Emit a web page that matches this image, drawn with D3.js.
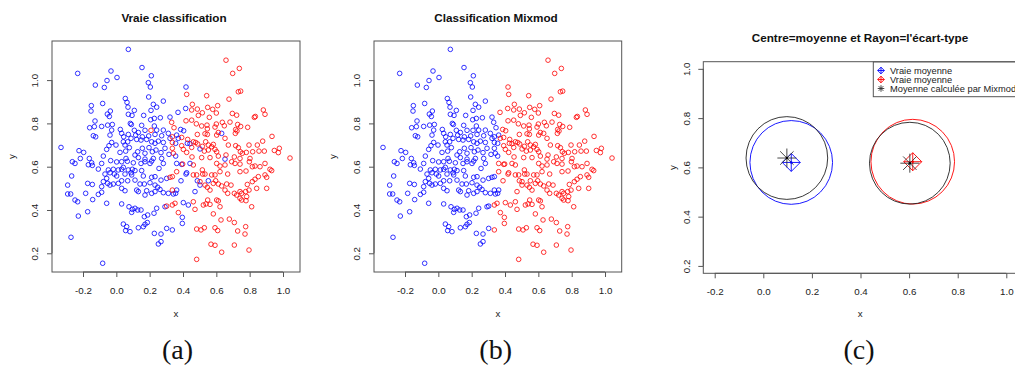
<!DOCTYPE html>
<html>
<head>
<meta charset="utf-8">
<script src="https://cdn.jsdelivr.net/npm/d3@7"></script>
<style>
  body { margin: 0; background: #fff; }
  svg text { font-family: "Liberation Sans", Arial, sans-serif; fill: #222; }
  .title { font-weight: bold; font-size: 11.7px; fill: #111; }
  .tick-label, .axis-label { font-size: 9.75px; }
  .legend-text { font-size: 9.3px; }
  .caption { font-family: "Liberation Serif", "Times New Roman", serif; font-size: 28px; fill: #111; }
</style>
</head>
<body>
<svg id="fig" width="1015" height="367"></svg>
<script>
// Points de la vraie classe 1 (bleus) : [x, y, classe Mixmod]
const bleus = [
	[0.072,1.142,1],[-0.232,1.031,1],[-0.032,1.042,1],[0.154,1.058,1],[-0.056,0.998,1],[0.004,1.012,1],
	[-0.126,0.977,1],[-0.072,0.966,1],[0.21,1.02,1],[0.192,0.988,1],[0.204,0.968,1],[0.054,0.915,1],
	[0.194,0.922,1],[0.282,0.903,1],[-0.15,0.882,1],[-0.082,0.892,1],[0.064,0.897,1],[0.07,0.875,1],
	[-0.152,0.857,1],[-0.036,0.857,1],[0.108,0.86,1],[0.222,0.888,1],[0.242,0.875,1],[0.208,0.86,1],
	[-0.054,0.843,1],[0.072,0.842,1],[0.164,0.837,1],[-0.042,0.832,1],[0.094,0.837,1],[-0.128,0.811,1],
	[0.228,0.823,1],[0.264,0.826,1],[0.322,0.829,1],[0.206,0.817,1],[-0.16,0.78,1],[-0.132,0.785,1],
	[-0.088,0.786,1],[-0.052,0.792,1],[-0.024,0.795,1],[0.084,0.8,1],[0.09,0.795,1],[0.152,0.791,1],
	[0.228,0.788,1],[-0.028,0.769,1],[0.024,0.772,1],[0.108,0.768,1],[0.132,0.758,1],[0.172,0.768,1],
	[0.242,0.769,1],[0.282,0.769,1],[0.312,0.754,1],[-0.138,0.743,1],[-0.124,0.738,1],[-0.038,0.746,1],
	[0.032,0.754,1],[0.044,0.738,1],[0.072,0.749,1],[0.116,0.746,1],[0.156,0.738,1],[0.194,0.742,1],
	[0.232,0.749,1],[0.272,0.743,1],[-0.332,0.689,1],[-0.028,0.712,1],[-0.002,0.7,1],[0.042,0.715,1],
	[0.052,0.7,1],[0.068,0.715,1],[0.088,0.731,1],[0.122,0.726,1],[0.148,0.723,1],[0.182,0.726,1],
	[0.212,0.715,1],[0.232,0.708,1],[0.252,0.718,1],[0.282,0.712,1],[0.322,0.731,1],[-0.224,0.674,1],
	[-0.196,0.666,1],[-0.162,0.638,1],[-0.078,0.649,1],[-0.058,0.68,1],[-0.044,0.697,1],[0.022,0.666,1],
	[0.056,0.672,1],[0.078,0.688,1],[0.112,0.654,1],[0.128,0.669,1],[0.156,0.685,1],[0.172,0.662,1],
	[0.196,0.688,1],[0.216,0.669,1],[0.238,0.677,1],[0.268,0.665,1],[0.292,0.685,1],[0.316,0.657,1],
	[-0.216,0.638,1],[0.058,0.638,1],[0.132,0.642,1],[0.172,0.635,1],[0.222,0.638,1],[0.272,0.638,1],
	[0.418,0.968,2],[0.37,0.851,2],[0.416,0.869,2],[0.386,0.772,2],[0.404,0.766,2],[0.362,0.746,1],
	[0.372,0.731,2],[0.356,0.708,1],[0.426,0.708,2],[0.442,0.706,2],[0.632,0.754,2],[0.502,0.682,2],
	[0.652,0.635,2],[0.356,0.649,1],
	[-0.264,0.623,1],[-0.248,0.615,1],[-0.168,0.609,1],[-0.148,0.618,1],[-0.144,0.606,1],[-0.088,0.615,1],
	[-0.034,0.628,1],[0.002,0.622,1],[0.032,0.623,1],[0.066,0.625,1],[0.102,0.618,1],[0.148,0.615,1],
	[0.172,0.623,1],[0.202,0.615,1],[0.212,0.626,1],[0.282,0.615,1],[0.256,0.592,1],[-0.108,0.589,1],
	[-0.048,0.585,1],[-0.018,0.588,1],[-0.038,0.572,1],[0.012,0.585,1],[0.032,0.588,1],[0.042,0.597,1],
	[0.072,0.585,1],[0.096,0.588,1],[0.088,0.572,1],[0.112,0.582,1],[0.152,0.582,1],[-0.268,0.557,1],
	[-0.068,0.566,1],[-0.058,0.546,1],[-0.012,0.566,1],[0.002,0.557,1],[0.052,0.566,1],[0.092,0.562,1],
	[0.162,0.557,1],[0.212,0.551,1],[0.232,0.554,1],[0.268,0.538,1],[0.302,0.546,1],[-0.078,0.531,1],
	[-0.052,0.523,1],[-0.038,0.515,1],[-0.018,0.52,1],[0.012,0.523,1],[0.032,0.535,1],[0.068,0.535,1],
	[0.112,0.538,1],[0.142,0.52,1],[0.168,0.52,1],[0.202,0.526,1],[0.232,0.515,1],[0.248,0.505,1],
	[0.262,0.495,1],[-0.292,0.515,1],[-0.172,0.523,1],[-0.144,0.518,1],[-0.088,0.508,1],[0.032,0.5,1],
	[0.052,0.489,1],[0.122,0.492,1],[0.132,0.485,1],[0.182,0.489,1],[0.212,0.477,1],[0.232,0.485,1],
	[0.282,0.48,1],[0.312,0.477,1],[0.342,0.474,1],[-0.292,0.474,1],[-0.274,0.474,1],[-0.184,0.477,1],
	[-0.108,0.472,1],[-0.088,0.482,1],[0.172,0.469,1],[-0.248,0.446,1],[-0.232,0.438,1],[-0.142,0.448,1],
	[-0.058,0.431,1],[0.032,0.428,1],[0.076,0.415,1],[0.096,0.403,1],[0.112,0.408,1],[0.128,0.4,1],
	[0.148,0.4,1],[0.242,0.408,1],[0.226,0.385,1],[0.292,0.415,1],[-0.172,0.392,1],[0.092,0.389,1],
	[0.188,0.377,1],[0.168,0.369,1],[-0.228,0.372,1],[0.042,0.335,1],[0.062,0.323,1],[0.056,0.305,1],
	[0.082,0.3,1],[0.132,0.318,1],[0.162,0.323,1],[0.172,0.334,1],[0.186,0.342,1],[0.228,0.292,1],
	[0.268,0.289,1],[0.302,0.315,1],[0.336,0.308,2],[-0.272,0.274,1],[0.252,0.243,1],[0.268,0.254,1],
	[-0.082,0.154,1],
	[0.362,0.615,2],[0.392,0.611,2],[0.442,0.615,2],[0.422,0.572,2],[0.418,0.566,2],[0.388,0.535,2],
	[0.486,0.535,2],[0.552,0.535,2],[0.362,0.492,1],[0.356,0.477,1],[0.472,0.485,2],[0.502,0.515,2],
	[0.402,0.434,2],[0.432,0.423,2],[0.396,0.366,2],[0.396,0.338,2]
];

// Points de la vraie classe 2 (rouges) : [x, y, classe Mixmod]
const rouges = [
	[0.208,0.768,1],[0.332,0.805,1],[0.346,0.78,1],[0.336,0.738,1],[0.336,0.712,1],[0.336,0.685,1],
	[0.342,0.662,1],
	[0.658,1.092,2],[0.738,1.054,2],[0.698,1.031,2],[0.422,0.934,2],[0.542,0.928,2],[0.732,0.946,2],
	[0.746,0.949,2],[0.676,0.912,2],[0.456,0.888,2],[0.486,0.866,2],[0.548,0.874,2],[0.578,0.865,2],
	[0.608,0.882,2],[0.6,0.848,2],[0.452,0.862,2],[0.516,0.849,2],[0.492,0.837,2],[0.558,0.828,2],
	[0.418,0.812,2],[0.452,0.815,2],[0.48,0.798,2],[0.512,0.788,2],[0.544,0.792,2],[0.546,0.775,2],
	[0.592,0.783,2],[0.6,0.797,2],[0.636,0.805,2],[0.648,0.789,2],[0.696,0.846,2],[0.722,0.838,2],
	[0.682,0.806,2],[0.728,0.795,2],[0.746,0.786,2],[0.788,0.782,2],[0.828,0.828,2],[0.834,0.832,2],
	[0.882,0.862,2],[0.892,0.842,2],[0.716,0.772,2],[0.724,0.765,2],[0.714,0.754,2],[0.486,0.749,2],
	[0.532,0.752,2],[0.546,0.749,2],[0.602,0.746,2],[0.612,0.758,2],[0.392,0.735,2],[0.428,0.726,2],
	[0.462,0.715,2],[0.476,0.712,2],[0.488,0.705,2],[0.536,0.715,2],[0.552,0.7,2],[0.572,0.692,2],
	[0.582,0.703,2],[0.392,0.697,2],[0.402,0.68,2],[0.422,0.666,2],[0.452,0.689,2],[0.516,0.694,2],
	[0.528,0.672,2],[0.552,0.677,2],[0.592,0.68,2],[0.602,0.669,2],[0.652,0.731,2],[0.672,0.7,2],
	[0.716,0.697,2],[0.732,0.688,2],[0.744,0.669,2],[0.756,0.662,2],[0.78,0.666,2],[0.796,0.7,2],
	[0.818,0.669,2],[0.846,0.7,2],[0.856,0.672,2],[0.878,0.718,2],[0.888,0.672,2],[0.934,0.74,2],
	[0.948,0.675,2],[0.978,0.685,2],[0.972,0.665,2],[1.042,0.64,2],[0.454,0.645,2],[0.512,0.642,2],
	[0.562,0.642,2],[0.612,0.649,2],[0.658,0.654,2],[0.708,0.645,2],[0.742,0.638,2],[0.802,0.638,2],
	[0.362,0.577,2],[0.398,0.612,2],[0.462,0.608,2],[0.516,0.585,2],[0.602,0.615,2],[0.622,0.603,2],
	[0.652,0.608,2],[0.692,0.623,2],[0.712,0.615,2],[0.742,0.612,2],[0.798,0.623,2],[0.816,0.6,2],
	[0.832,0.603,2],[0.862,0.6,2],[0.892,0.615,2],[0.922,0.588,2],[0.932,0.582,2],[0.462,0.562,2],
	[0.482,0.562,2],[0.518,0.566,2],[0.532,0.566,2],[0.572,0.562,2],[0.592,0.562,2],[0.622,0.577,2],
	[0.668,0.566,2],[0.742,0.577,2],[0.778,0.58,2],[0.502,0.531,2],[0.532,0.515,2],[0.546,0.505,2],
	[0.562,0.492,2],[0.582,0.523,2],[0.596,0.535,2],[0.612,0.52,2],[0.632,0.511,2],[0.662,0.52,2],
	[0.688,0.515,2],[0.708,0.477,2],[0.722,0.469,2],[0.742,0.485,2],[0.752,0.477,2],[0.776,0.485,2],
	[0.786,0.518,2],[0.796,0.492,2],[0.816,0.531,2],[0.832,0.542,2],[0.852,0.554,2],[0.892,0.562,2],
	[0.902,0.551,2],[0.842,0.5,2],[0.902,0.5,2],[0.652,0.492,2],[0.668,0.477,2],[0.742,0.454,2],
	[0.752,0.446,2],[0.778,0.443,2],[0.782,0.462,2],[0.812,0.415,2],[0.462,0.438,2],[0.472,0.403,2],
	[0.522,0.423,2],[0.538,0.428,2],[0.548,0.446,2],[0.562,0.426,2],[0.602,0.446,2],[0.612,0.442,2],
	[0.622,0.415,2],[0.582,0.382,2],[0.628,0.354,2],[0.678,0.358,2],[0.708,0.342,2],[0.776,0.323,2],
	[0.728,0.303,2],[0.772,0.289,2],[0.482,0.312,2],[0.508,0.308,2],[0.528,0.318,2],[0.592,0.318,2],
	[0.608,0.305,2],[0.568,0.242,2],[0.592,0.237,2],[0.708,0.238,2],[0.796,0.215,2],[0.632,0.205,2],
	[0.482,0.172,2],[0.372,0.388,2],[0.352,0.431,2],
	[0.322,0.551,1],[0.336,0.554,1],[0.336,0.492,1],[0.302,0.418,1],[0.336,0.423,2]
];

// Panneau (c) : moyennes et écarts-types
const moyennesVraies = [[0.115, 0.620], [0.615, 0.623]];
const ecartsVrais = [0.170, 0.172];
const moyennesMixmod = [[0.097, 0.638], [0.603, 0.617]];
const ecartsMixmod = [0.168, 0.166];

const xTicks = [-0.2, 0.0, 0.2, 0.4, 0.6, 0.8, 1.0];
const yTicks = [0.2, 0.4, 0.6, 0.8, 1.0];
const titres = ["Vraie classification", "Classification Mixmod", "Centre=moyenne et Rayon=l'écart-type"];
const sousTitres = ["(a)", "(b)", "(c)"];
const legendeTextes = ["Vraie moyenne", "Vraie moyenne", "Moyenne calculée par Mixmod"];

const couleurs = {1: "#0000ff", 2: "#ff0000"};
const gris = "#555";

const svg = d3.select("#fig");
svg.append("rect").attr("width", 1015).attr("height", 367).attr("fill", "#fff");

// cadre + axes à la manière de R
function cadre(p) {
	const x = d3.scaleLinear().domain(p.xDomain).range([p.left, p.right]);
	const y = d3.scaleLinear().domain(p.yDomain).range([p.bottom, p.top]);

	svg.append("rect")
		.attr("x", p.left).attr("y", p.top)
		.attr("width", p.right - p.left).attr("height", p.bottom - p.top)
		.attr("fill", "none").attr("stroke", gris).attr("stroke-width", 1);

	const gx = svg.append("g")
		.attr("transform", "translate(0," + p.bottom + ")")
		.call(d3.axisBottom(x).tickValues(xTicks).tickSize(5).tickFormat(d => d.toFixed(1)));
	gx.select(".domain").remove();
	gx.append("line")
		.attr("x1", x(xTicks[0])).attr("x2", x(xTicks[xTicks.length - 1]))
		.attr("stroke", gris);
	gx.selectAll(".tick line").attr("stroke", gris);
	gx.selectAll(".tick text")
		.classed("tick-label", true)
		.attr("y", p.xLabelY).attr("dy", null);

	const gy = svg.append("g")
		.attr("transform", "translate(" + p.left + ",0)")
		.call(d3.axisLeft(y).tickValues(yTicks).tickSize(5).tickFormat(d => d.toFixed(1)));
	gy.select(".domain").remove();
	gy.append("line")
		.attr("y1", y(yTicks[0])).attr("y2", y(yTicks[yTicks.length - 1]))
		.attr("stroke", gris);
	gy.selectAll(".tick line").attr("stroke", gris);
	gy.selectAll(".tick text")
		.classed("tick-label", true)
		.attr("x", null).attr("dy", null)
		.attr("text-anchor", "middle")
		.attr("transform", "translate(" + (-p.yLabelX) + ",0) rotate(-90)");

	// titre
	svg.append("text")
		.classed("title", true)
		.attr("x", p.titleX).attr("y", p.titleY)
		.attr("text-anchor", "middle")
		.text(p.titre);
	// étiquettes d'axes
	svg.append("text")
		.classed("axis-label", true)
		.attr("x", (p.left + p.right) / 2).attr("y", 317)
		.attr("text-anchor", "middle")
		.text("x");
	svg.append("text")
		.classed("axis-label", true)
		.attr("transform", "translate(" + p.yAxisLabelX + "," + ((p.top + p.bottom) / 2) + ") rotate(-90)")
		.attr("text-anchor", "middle")
		.text("y");
	// sous-titre (a), (b), (c)
	svg.append("text")
		.classed("caption", true)
		.attr("x", p.captionX).attr("y", 359)
		.attr("text-anchor", "middle")
		.text(p.sousTitre);

	return {x, y};
}

function nuage(sc, champ) {
	const pts = bleus.map(d => ({x: d[0], y: d[1], c: champ === "vraie" ? 1 : d[2]}))
		.concat(rouges.map(d => ({x: d[0], y: d[1], c: champ === "vraie" ? 2 : d[2]})));
	svg.append("g").selectAll("circle")
		.data(pts)
		.join("circle")
		.attr("cx", d => sc.x(d.x))
		.attr("cy", d => sc.y(d.y))
		.attr("r", 2.3)
		.attr("fill", "none")
		.attr("stroke", d => couleurs[d.c])
		.attr("stroke-width", 0.8);
}

const scDomY = [0.1136, 1.1806];

// (a)
const scA = cadre({left: 52, right: 300, top: 41, bottom: 272, xDomain: [-0.386, 1.102], yDomain: scDomY,
	xLabelY: 22, yLabelX: 14.5, titleX: 174, titleY: 21.5, yAxisLabelX: 14.5, captionX: 177.5,
	titre: titres[0], sousTitre: sousTitres[0]});
nuage(scA, "vraie");

// (b)
const scB = cadre({left: 374, right: 621.7, top: 41, bottom: 272, xDomain: [-0.386, 1.1], yDomain: scDomY,
	xLabelY: 22, yLabelX: 14.5, titleX: 496, titleY: 21.5, yAxisLabelX: 335.5, captionX: 495.7,
	titre: titres[1], sousTitre: sousTitres[1]});
nuage(scB, "mixmod");

// (c)
const scC = cadre({left: 703.3, right: 1017, top: 61.7, bottom: 273.3, xDomain: [-0.2469, 1.044], yDomain: [0.170, 1.029],
	xLabelY: 22, yLabelX: 13, titleX: 860, titleY: 42.3, yAxisLabelX: 675.5, captionX: 859,
	titre: titres[2], sousTitre: sousTitres[2]});

function diamantPlus(cx, cy, s) {
	return "M" + (cx - s) + "," + cy + "L" + cx + "," + (cy - s) + "L" + (cx + s) + "," + cy + "L" + cx + "," + (cy + s) + "Z" +
		"M" + (cx - s) + "," + cy + "H" + (cx + s) + "M" + cx + "," + (cy - s) + "V" + (cy + s);
}
function asterisque(cx, cy, s) {
	const d = s * 0.7071;
	return "M" + (cx - s) + "," + cy + "H" + (cx + s) + "M" + cx + "," + (cy - s) + "V" + (cy + s) +
		"M" + (cx - d) + "," + (cy - d) + "L" + (cx + d) + "," + (cy + d) +
		"M" + (cx - d) + "," + (cy + d) + "L" + (cx + d) + "," + (cy - d);
}

const gC = svg.append("g");
// cercles : rayon = écart-type
const cercles = moyennesVraies.map((m, i) => ({m, r: ecartsVrais[i], col: couleurs[i + 1]}))
	.concat(moyennesMixmod.map((m, i) => ({m, r: ecartsMixmod[i], col: "#222"})));
gC.selectAll("ellipse")
	.data(cercles)
	.join("ellipse")
	.attr("cx", d => scC.x(d.m[0]))
	.attr("cy", d => scC.y(d.m[1]))
	.attr("rx", d => scC.x(d.m[0] + d.r) - scC.x(d.m[0]))
	.attr("ry", d => scC.y(d.m[1]) - scC.y(d.m[1] + d.r))
	.attr("fill", "none")
	.attr("stroke", d => d.col)
	.attr("stroke-width", 0.9);

// symboles des moyennes
gC.selectAll("path.vraie")
	.data(moyennesVraies)
	.join("path")
	.attr("d", (d) => diamantPlus(scC.x(d[0]), scC.y(d[1]), 9))
	.attr("fill", "none")
	.attr("stroke", (d, i) => couleurs[i + 1])
	.attr("stroke-width", 0.9);
gC.selectAll("path.mixmod")
	.data(moyennesMixmod)
	.join("path")
	.attr("d", d => asterisque(scC.x(d[0]), scC.y(d[1]), 9.5))
	.attr("fill", "none")
	.attr("stroke", "#333")
	.attr("stroke-width", 0.9);
gC.selectAll("circle.point")
	.data(moyennesVraies.map((m, i) => ({m, col: couleurs[i + 1]})).concat(moyennesMixmod.map(m => ({m, col: "#000"}))))
	.join("circle")
	.attr("cx", d => scC.x(d.m[0]))
	.attr("cy", d => scC.y(d.m[1]))
	.attr("r", 1.2)
	.attr("fill", d => d.col);

// légende
const leg = svg.append("g");
leg.append("rect")
	.attr("x", 873.3).attr("y", 62)
	.attr("width", 200).attr("height", 34.7)
	.attr("fill", "#fff").attr("stroke", gris);
legendeTextes.forEach((t, i) => {
	const cy = 70.5 + i * 9;
	const col = i === 2 ? "#333" : couleurs[i + 1];
	leg.append("path")
		.attr("d", i === 2 ? asterisque(881, cy, 3.3) : diamantPlus(881, cy, 3.3))
		.attr("fill", "none").attr("stroke", col).attr("stroke-width", 0.9);
	leg.append("text")
		.classed("legend-text", true)
		.attr("x", 890).attr("y", cy + 3.2)
		.text(t);
});
</script>
</body>
</html>
